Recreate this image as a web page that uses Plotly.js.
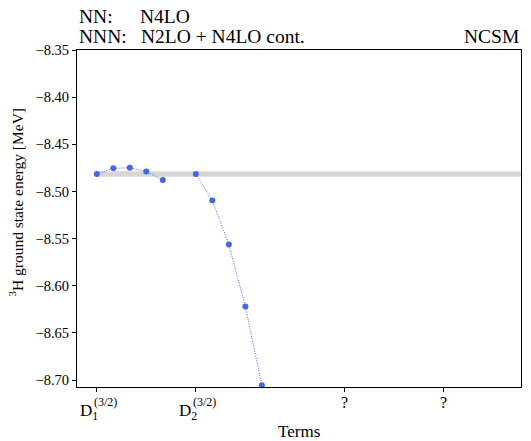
<!DOCTYPE html>
<html>
<head>
<meta charset="utf-8">
<script src="https://cdn.plot.ly/plotly-3.0.1.min.js"></script>
<style>html,body{margin:0;padding:0;background:#fff;}</style>
</head>
<body>
<div id="chart"></div>
<script>
// Data
const termsGroup1 = [0, 1, 2, 3, 4];
const energyGroup1 = [-8.4815, -8.4755, -8.4748, -8.4788, -8.4880];
const termsGroup2 = [6, 7, 8, 9, 10];
const energyGroup2 = [-8.4815, -8.5095, -8.5563, -8.6220, -8.7055];
const bandCenter = -8.4815;
const bandHalfWidth = 0.0028;
const bandX = [0, 30];
const tickPositions = [0, 6, 15, 21];
const tickBase = ["D", "D", "?", "?"];
const tickSub = ["1", "2", "", ""];
const tickSup = ["(3/2)", "(3/2)", "", ""];
const yTicks = [-8.35, -8.40, -8.45, -8.50, -8.55, -8.60, -8.65, -8.70];

const serifFamily = "Liberation Serif";
const markColor = "#4169e1";

const traces = [
  {x: bandX, y: bandX.map(() => bandCenter - bandHalfWidth), mode: "lines", line: {width: 0, color: "rgba(0,0,0,0)"}, hoverinfo: "skip", showlegend: false},
  {x: bandX, y: bandX.map(() => bandCenter + bandHalfWidth), mode: "lines", fill: "tonexty", fillcolor: "#d6d6d6", line: {width: 0, color: "rgba(0,0,0,0)"}, hoverinfo: "skip", showlegend: false},
  {x: termsGroup1, y: energyGroup1, mode: "lines+markers", line: {color: markColor, width: 1, dash: "1px,1.5px"}, marker: {color: markColor, size: 6}, showlegend: false, cliponaxis: false},
  {x: termsGroup2, y: energyGroup2, mode: "lines+markers", line: {color: markColor, width: 1, dash: "1px,1.5px"}, marker: {color: markColor, size: 6}, showlegend: false, cliponaxis: false}
];

const headSize = 19.5;
const notes = [
  {xref: "paper", yref: "paper", x: 0, y: 1, yshift: 33.5, xanchor: "left", yanchor: "middle", text: "NN:", showarrow: false, font: {family: serifFamily, size: headSize, color: "#000"}},
  {xref: "paper", yref: "paper", x: 0, y: 1, xshift: 61, yshift: 33.5, xanchor: "left", yanchor: "middle", text: "N4LO", showarrow: false, font: {family: serifFamily, size: headSize, color: "#000"}},
  {xref: "paper", yref: "paper", x: 0, y: 1, yshift: 14, xanchor: "left", yanchor: "middle", text: "NNN:", showarrow: false, font: {family: serifFamily, size: headSize, color: "#000"}},
  {xref: "paper", yref: "paper", x: 0, y: 1, xshift: 62, yshift: 14, xanchor: "left", yanchor: "middle", text: "N2LO + N4LO cont.", showarrow: false, font: {family: serifFamily, size: headSize, color: "#000"}},
  {xref: "paper", yref: "paper", x: 1, y: 1, yshift: 14, xanchor: "right", yanchor: "middle", text: "NCSM", showarrow: false, font: {family: serifFamily, size: headSize, color: "#000"}},
  {xref: "paper", yref: "paper", x: 0, y: 0.5, xshift: -61, yshift: 16, xanchor: "center", yanchor: "middle", textangle: -90, text: "<sup>3</sup>H ground state energy [MeV]", showarrow: false, font: {family: serifFamily, size: 15.5, color: "#000"}},
  {xref: "paper", yref: "paper", x: 0.5, y: 0, yshift: -44, xanchor: "center", yanchor: "middle", text: "Terms", showarrow: false, font: {family: serifFamily, size: 17, color: "#000"}}
];
tickPositions.forEach((pos, i) => {
  if (tickSub[i]) {
    notes.push({xref: "x", yref: "paper", x: pos, y: 0, xshift: -19, yshift: -12, xanchor: "left", yanchor: "top", text: tickBase[i] + "<sub>" + tickSub[i] + "</sub>", showarrow: false, font: {family: serifFamily, size: 17, color: "#000"}});
    notes.push({xref: "x", yref: "paper", x: pos, y: 0, xshift: -5, yshift: -14.5, xanchor: "left", yanchor: "middle", text: tickSup[i], showarrow: false, font: {family: serifFamily, size: 12, color: "#000"}});
  } else {
    notes.push({xref: "x", yref: "paper", x: pos, y: 0, yshift: -15, xanchor: "center", yanchor: "middle", text: tickBase[i], showarrow: false, font: {family: serifFamily, size: 16, color: "#000"}});
  }
});

const layout = {
  width: 531, height: 441,
  margin: {l: 77, r: 10, t: 50, b: 54},
  paper_bgcolor: "#fff", plot_bgcolor: "#fff",
  font: {family: serifFamily, size: 14, color: "#000"},
  showlegend: false,
  xaxis: {
    range: [-1.2, 25.7], tickvals: tickPositions, showticklabels: false,
    showgrid: false, zeroline: false, showline: true, mirror: true, linecolor: "#000", linewidth: 1,
    ticks: "outside", ticklen: 4, tickcolor: "#000"
  },
  yaxis: {
    range: [-8.7074, -8.35], tickvals: yTicks,
    tickformat: ".2f",
    showgrid: false, zeroline: false, showline: true, mirror: true, linecolor: "#000", linewidth: 1,
    ticks: "outside", ticklen: 4, tickcolor: "#000", tickfont: {family: serifFamily, size: 14.5, color: "#000"}
  },
  annotations: notes
};

Plotly.newPlot("chart", traces, layout, {displayModeBar: false});
</script>
</body>
</html>
